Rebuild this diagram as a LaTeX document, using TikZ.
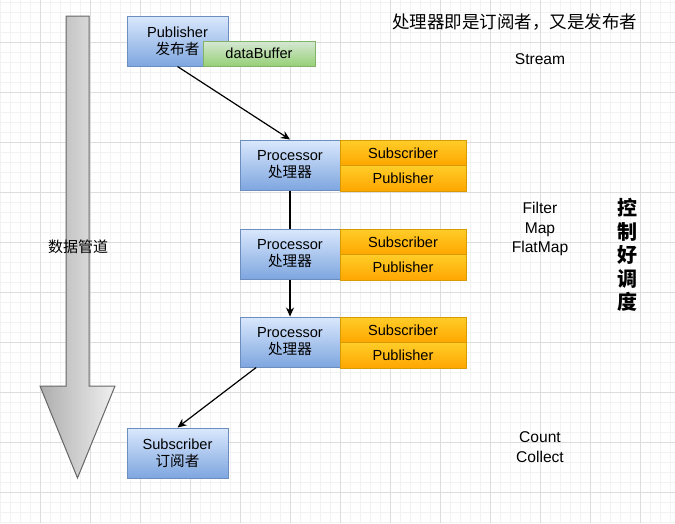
\documentclass[tikz,border=0pt]{standalone}
\usepackage{fontspec}
\setmainfont{Liberation Sans}
\newfontfamily\cjk{Noto Sans CJK SC}
\usepackage{tikz}
\usepackage{xcolor}
\usetikzlibrary{arrows.meta}

\definecolor{blueTop}{HTML}{DAE8FC}
\definecolor{blueBot}{HTML}{7EA6E0}
\definecolor{blueLine}{HTML}{6C8EBF}
\definecolor{greenTop}{HTML}{D5E8D4}
\definecolor{greenBot}{HTML}{97D077}
\definecolor{greenLine}{HTML}{82B366}
\definecolor{orangeTop}{HTML}{FFCD28}
\definecolor{orangeBot}{HTML}{FFA500}
\definecolor{orangeLine}{HTML}{D79B00}
\definecolor{gridMinor}{HTML}{F2F2F2}
\definecolor{gridMajor}{HTML}{DDDDDD}

\begin{document}
\begin{tikzpicture}[x=1pt,y=-1pt,
	every node/.style={font=\fontsize{14.6}{17}\selectfont},
	bluebox/.style={draw=blueLine,line width=1pt,top color=blueTop,bottom color=blueBot,
		minimum width=101pt,minimum height=50pt,inner sep=0pt,align=center},
	greenbox/.style={draw=greenLine,line width=1pt,top color=greenTop,bottom color=greenBot,
		minimum width=112pt,minimum height=25pt,inner sep=0pt},
	orangebox/.style={draw=orangeLine,line width=1pt,top color=orangeTop,bottom color=orangeBot,
		minimum width=126pt,minimum height=25.5pt,inner sep=0pt},
	conn/.style={line width=1.2pt,-{Stealth[length=9pt,width=8pt]}}]
			\useasboundingbox (0,0) rectangle (675,523);
			\fill[white] (0,0) rectangle (675,523);
			
			% grid
			\foreach \gx in {0,10,...,670} \draw[gridMinor,line width=1pt] (\gx,0) -- (\gx,523);
			\foreach \gy in {2,12,...,522} \draw[gridMinor,line width=1pt] (0,\gy) -- (675,\gy);
			\foreach \gx in {40,90,...,640} \draw[gridMajor,line width=1pt] (\gx,0) -- (\gx,523);
			\foreach \gy in {42,92,...,492} \draw[gridMajor,line width=1pt] (0,\gy) -- (675,\gy);
			
			% pipeline arrow
			\path[draw=black!60,line width=1pt,left color=black!32,right color=black!6]
				(66,16) -- (89,16) -- (89,386) -- (115,386) -- (77.5,478) -- (40,386) -- (66,386) -- cycle;
			\node (pipe) at (78,247) [font=\cjk\fontsize{15}{17}\selectfont] {数据管道};
			
			\node (pub) at (177.5,41) [bluebox] {Publisher\\{\cjk 发布者}};
			\node (buf) at (259,53.5) [greenbox] {dataBuffer};
			
			\node (p1) at (290,165) [bluebox,minimum width=100pt] {Processor\\{\cjk 处理器}};
			\node (s1) at (403,153) [orangebox] {Subscriber};
			\node (o1) at (403,178.5) [orangebox] {Publisher};
			
			\node (p2) at (290,254) [bluebox,minimum width=100pt] {Processor\\{\cjk 处理器}};
			\node (s2) at (403,242) [orangebox] {Subscriber};
			\node (o2) at (403,267.5) [orangebox] {Publisher};
			
			\node (p3) at (290,342) [bluebox,minimum width=100pt] {Processor\\{\cjk 处理器}};
			\node (s3) at (403,330) [orangebox] {Subscriber};
			\node (o3) at (403,355.5) [orangebox] {Publisher};
			
			\node (sub) at (177.5,453) [bluebox] {Subscriber\\{\cjk 订阅者}};
			
			\draw[conn] (pub.south) -- (p1.north);
			\draw[line width=1.2pt] (p1.south) -- (p2.north);
			\draw[conn] (p2.south) -- (p3.north);
			\draw[conn] (p3.217) -- (sub.north);
			
			% notes
			\node (title) at (514.5,22) [font=\cjk\fontsize{17.5}{20}\selectfont] {处理器即是订阅者，又是发布者};
			\node (stream) at (540,59) [font=\fontsize{15.6}{19.5}\selectfont] {Stream};
			\node (ops) at (540,229) [align=center,font=\fontsize{15.6}{19.5}\selectfont] {Filter\\Map\\FlatMap};
			\node (ends) at (540,447) [align=center,font=\fontsize{15.6}{19.5}\selectfont] {Count\\Collect};
			\node (sched) at (627,255) [align=center,font=\cjk\bfseries\fontsize{20}{23.5}\selectfont] {控\\制\\好\\调\\度};
		\end{tikzpicture}
\end{document}
